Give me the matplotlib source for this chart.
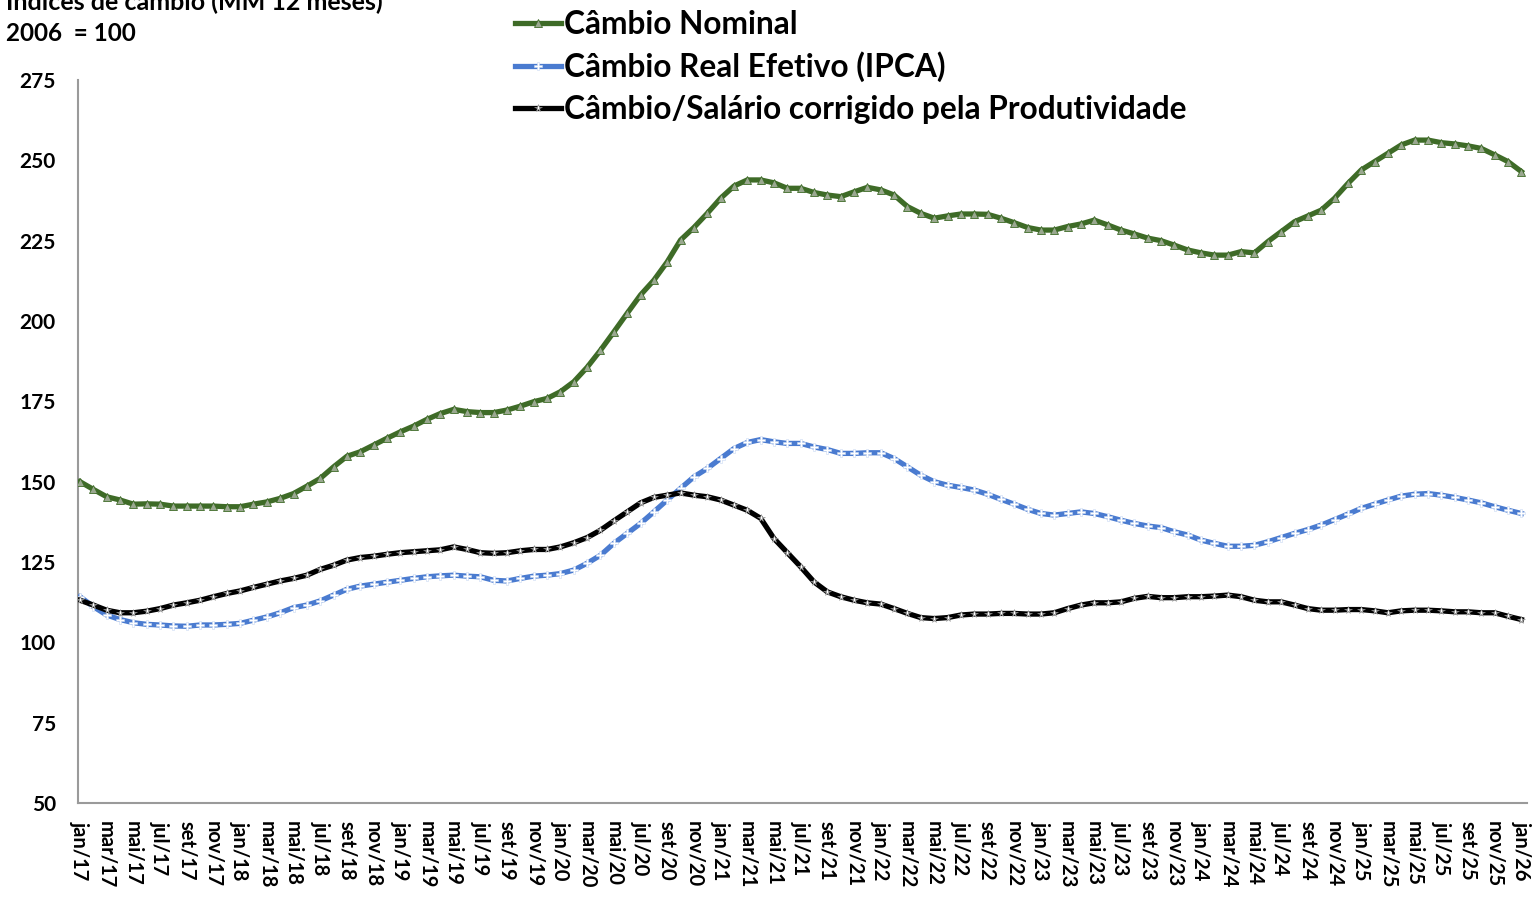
import matplotlib
matplotlib.use("Agg")
import matplotlib.pyplot as plt
import numpy as np

plt.rcParams['font.family'] = ['Lato', 'DejaVu Sans']

# monthly, jan/17 .. jan/26
month_names = ['jan', 'fev', 'mar', 'abr', 'mai', 'jun', 'jul', 'ago', 'set', 'out', 'nov', 'dez']
years = ['17', '18', '19', '20', '21', '22', '23', '24', '25', '26']
months = [m + '/' + y for y in years for m in month_names][:109]

nominal = [150.0, 147.6, 145.3, 144.3, 143.0, 143.1, 143.0, 142.4, 142.4, 142.4, 142.4, 142.2,
           142.2, 143.0, 143.7, 144.8, 146.3, 148.6, 151.0, 154.6, 157.9, 159.3, 161.4, 163.5,
           165.5, 167.3, 169.4, 171.2, 172.5, 171.8, 171.5, 171.5, 172.3, 173.5, 174.9, 175.9,
           178.0, 181.1, 185.6, 190.9, 196.6, 202.4, 208.1, 212.7, 218.4, 225.2, 229.1, 233.5,
           238.2, 242.0, 243.9, 243.9, 243.0, 241.3, 241.3, 240.0, 239.2, 238.7, 240.2, 241.6,
           240.8, 239.2, 235.6, 233.5, 232.0, 232.7, 233.3, 233.3, 233.2, 232.0, 230.6, 229.1,
           228.3, 228.3, 229.4, 230.2, 231.4, 229.9, 228.3, 227.1, 225.8, 225.0, 223.6, 222.1,
           221.2, 220.5, 220.5, 221.6, 221.2, 224.7, 227.8, 230.9, 232.7, 234.5, 238.2, 242.8,
           247.0, 249.6, 252.2, 254.8, 256.3, 256.3, 255.5, 255.1, 254.5, 253.7, 251.7, 249.6,
           246.5]

real_ipca = [114.2, 111.1, 108.5, 107.1, 106.1, 105.6, 105.4, 105.1, 105.0, 105.4, 105.4, 105.6,
             105.9, 106.9, 107.9, 109.2, 110.8, 111.6, 112.9, 114.7, 116.5, 117.5, 118.1, 118.7,
             119.3, 119.9, 120.4, 120.7, 120.9, 120.6, 120.4, 119.3, 119.1, 119.9, 120.6, 120.9,
             121.4, 122.5, 124.6, 127.1, 130.8, 133.9, 137.0, 140.6, 144.3, 147.9, 151.5, 154.1,
             157.2, 160.3, 162.2, 163.1, 162.4, 161.9, 161.9, 160.8, 160.0, 158.8, 158.8, 159.0,
             159.0, 157.2, 154.6, 152.0, 150.0, 148.9, 148.2, 147.4, 146.1, 144.5, 143.0, 141.4,
             140.1, 139.6, 140.1, 140.6, 140.1, 139.1, 138.0, 137.0, 136.2, 135.7, 134.4, 133.4,
             131.8, 130.8, 129.9, 129.9, 130.2, 131.3, 132.6, 133.9, 135.1, 136.5, 138.2, 139.9,
             141.7, 143.0, 144.3, 145.5, 146.1, 146.3, 145.8, 145.1, 144.3, 143.4, 142.2, 141.1,
             140.1]

salario_prod = [113.1, 111.6, 110.0, 109.2, 109.2, 109.7, 110.5, 111.6, 112.3, 113.1, 114.2, 115.2,
                116.0, 117.1, 118.1, 119.1, 119.9, 120.9, 122.7, 124.0, 125.6, 126.4, 126.8, 127.4,
                127.9, 128.2, 128.5, 128.8, 129.7, 128.9, 127.9, 127.7, 127.9, 128.5, 128.9, 128.9,
                129.7, 131.0, 132.6, 134.9, 137.8, 140.6, 143.4, 145.1, 145.8, 146.5, 145.8, 145.3,
                144.3, 142.7, 141.1, 138.6, 132.3, 127.9, 123.5, 118.8, 115.7, 114.2, 113.1, 112.3,
                111.9, 110.5, 109.0, 107.7, 107.4, 107.7, 108.5, 108.8, 108.8, 109.0, 109.0, 108.8,
                108.8, 109.2, 110.5, 111.6, 112.3, 112.3, 112.6, 113.7, 114.3, 113.9, 113.9, 114.2,
                114.2, 114.4, 114.7, 114.2, 113.1, 112.6, 112.6, 111.6, 110.5, 110.0, 110.0, 110.2,
                110.2, 109.8, 109.2, 109.8, 110.0, 110.0, 109.8, 109.5, 109.5, 109.2, 109.2, 108.1,
                107.1]

x = np.arange(len(months))

fig = plt.figure(figsize=(15.32, 8.97), dpi=100)
ax = fig.add_axes([0.0509, 0.1048, 0.9461, 0.806])

ax.plot(x, nominal, color='#3E6B27', lw=3.8, marker='^', ms=5.5,
        mfc='#9aa890', mec='#3E6B27', mew=0.6, label='Câmbio Nominal', zorder=3)
ax.plot(x, real_ipca, color='#4A7BD0', lw=3.8, marker='P', ms=5.5,
        mfc='white', mec='#c9d8f2', mew=0.4, label='Câmbio Real Efetivo (IPCA)', zorder=3)
ax.plot(x, salario_prod, color='black', lw=3.8, marker='*', ms=5.5,
        mfc='white', mec='#888888', mew=0.4, label='Câmbio/Salário corrigido pela Produtividade', zorder=3)

ax.set_ylim(50, 275)
ax.set_yticks(np.arange(50, 276, 25))
ax.set_xlim(-0.15, 108.45)
ax.set_xticks(x[::2])
ax.set_xticklabels(months[::2], rotation=-90, fontsize=14.5, fontweight='bold')
ax.tick_params(axis='both', length=0)
ax.tick_params(axis='y', labelsize=15, pad=16)
ax.tick_params(axis='x', pad=13)
for lab in ax.get_yticklabels():
    lab.set_fontweight('bold')

for s in ['top', 'right']:
    ax.spines[s].set_visible(False)
for s in ['left', 'bottom']:
    ax.spines[s].set_color('#9a9a9a')
    ax.spines[s].set_linewidth(1.5)

# top line is clipped by the image edge in the source too
fig.text(0.004, 1.0, 'Índices de câmbio (MM 12 meses)', fontsize=18, fontweight='bold',
         ha='left', va='center')
fig.text(0.004, 0.963, '2006  = 100', fontsize=17.5, fontweight='bold', ha='left', va='center')

fig.legend(loc='upper left', bbox_to_anchor=(0.328, 1.003), frameon=False,
           prop={'size': 22.8, 'weight': 'bold'}, handlelength=1.45, handletextpad=0.08,
           labelspacing=0.4, borderaxespad=0)

fig.savefig('out.png', dpi=100)
